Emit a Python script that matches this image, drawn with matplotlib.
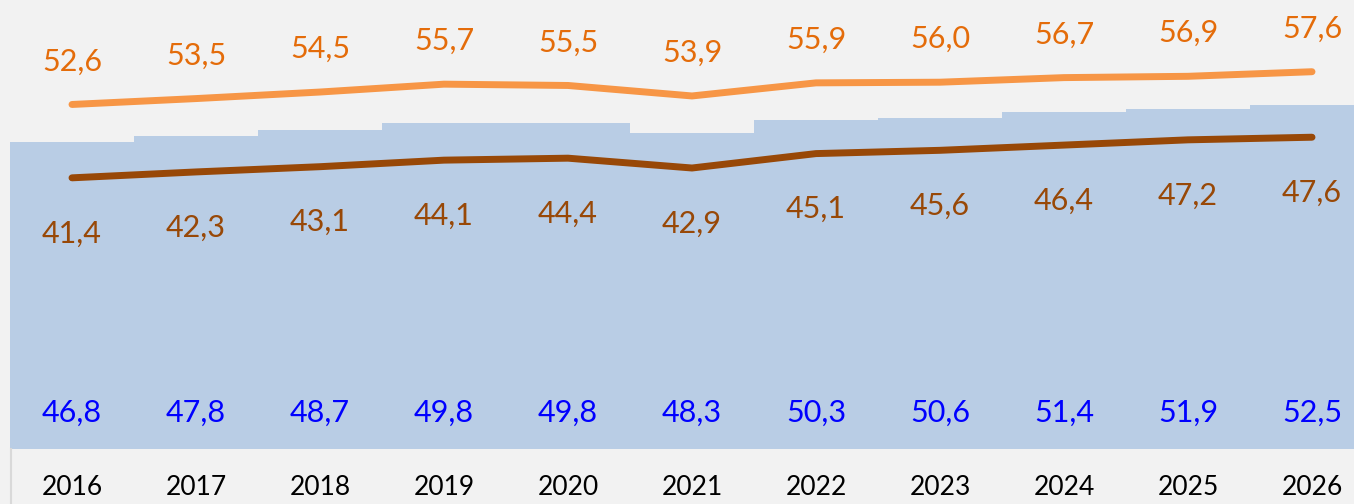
import matplotlib
matplotlib.use("Agg")
import matplotlib.pyplot as plt
from matplotlib.lines import Line2D

years = [2016, 2017, 2018, 2019, 2020, 2021, 2022, 2023, 2024, 2025, 2026]
bars_blue = [46.8, 47.8, 48.7, 49.8, 49.8, 48.3, 50.3, 50.6, 51.4, 51.9, 52.5]
line_orange = [52.6, 53.5, 54.5, 55.7, 55.5, 53.9, 55.9, 56.0, 56.7, 56.9, 57.6]
line_brown = [41.4, 42.3, 43.1, 44.1, 44.4, 42.9, 45.1, 45.6, 46.4, 47.2, 47.6]

BG = "#f2f2f2"
plt.rcParams['font.family'] = ['Lato', 'DejaVu Sans']


def fmt(v):
    # decimal comma, as in the original
    return f"{v:.1f}".replace(".", ",")


fig = plt.figure(figsize=(13.54, 5.04), dpi=100, facecolor=BG)
W, H = 1354, 504
ax = fig.add_axes([10 / W, 55 / H, 1344 / W, 449 / H])
ax.set_facecolor(BG)

x = list(range(len(years)))
ax.bar(x, bars_blue, width=1.0, color="#b9cde5", zorder=1)
ax.plot(x, line_orange, color="#f79646", lw=5, solid_capstyle="round", zorder=3)
ax.plot(x, line_brown, color="#984807", lw=5, solid_capstyle="round", zorder=3)

for i in x:
    ax.annotate(fmt(line_orange[i]), (i, line_orange[i]), xytext=(0, 31),
                textcoords="offset points", ha="center", va="center",
                color="#e46c0a", fontsize=22)
    ax.annotate(fmt(line_brown[i]), (i, line_brown[i]), xytext=(0, -40),
                textcoords="offset points", ha="center", va="center",
                color="#984807", fontsize=22)
    ax.text(i, 5.6, fmt(bars_blue[i]), ha="center", va="center",
            color="#0000ff", fontsize=22)

ax.set_xlim(-0.5, -0.5 + 1344 / 124)
ax.set_ylim(0, 449 / 6.55)
ax.set_xticks(x)
ax.set_xticklabels([str(y) for y in years], fontsize=19)
ax.tick_params(axis="x", length=0, pad=19)
ax.set_yticks([])
for s in ax.spines.values():
    s.set_visible(False)

# thin separator at the left of the year band
fig.add_artist(Line2D([10.5 / W, 10.5 / W], [0, 55 / H], color="#d9d9d9", lw=1.5))

fig.savefig("out.png", dpi=100, facecolor=BG)
